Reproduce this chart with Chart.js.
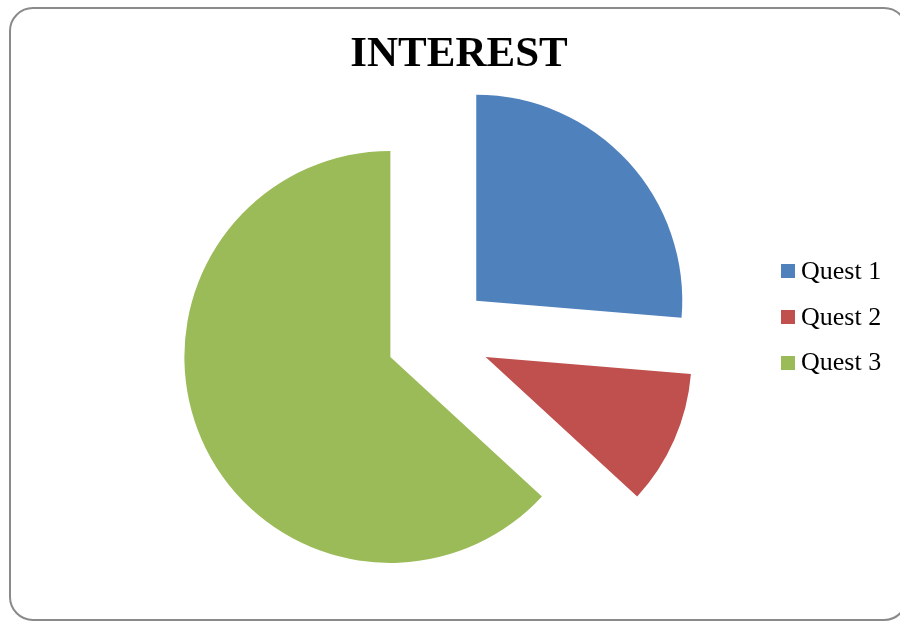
<!DOCTYPE html>
<html>
<head>
<meta charset="utf-8">
<script src="https://cdn.jsdelivr.net/npm/chart.js@4"></script>
<style>
  html, body { margin: 0; padding: 0; background: #fff; overflow: hidden; }
  #wrap { position: relative; width: 900px; height: 622px; }
  #frame {
    position: absolute; left: 9px; top: 7px; width: 899px; height: 614px;
    box-sizing: border-box; border: 2px solid #8a8a8a; border-radius: 24px;
  }
  #pie { position: absolute; left: 0; top: 0; }
  #title {
    position: absolute; left: 0; width: 918px; top: 30px; text-align: center;
    font: bold 43px 'Liberation Serif', serif; line-height: 1; color: #000;
  }
  #legend { position: absolute; left: 781px; top: 258px; font: 26px 'Liberation Serif', serif; }
  .item { position: relative; height: 26px; line-height: 1; margin-bottom: 19.7px; white-space: nowrap; }
  .item span.box { position: absolute; left: 0; top: 6.3px; width: 14px; height: 14px; }
  .item span.lbl { position: absolute; left: 20px; top: 0; }
</style>
</head>
<body>
<div id="wrap">
  <div id="frame"></div>
  <canvas id="pie" width="900" height="622"></canvas>
  <div id="title">INTEREST</div>
  <div id="legend"></div>
</div>
<script>
const labels = ['Quest 1', 'Quest 2', 'Quest 3'];
const values = [25, 10, 60];
const colors = ['#4F81BD', '#C0504D', '#9BBB59'];
const explodePx = 52;

// pull every slice out along its middle angle, keeping radius and angles intact
const baseArcDraw = Chart.ArcElement.prototype.draw;
Chart.ArcElement.prototype.draw = function (ctx) {
  const mid = (this.startAngle + this.endAngle) / 2;
  ctx.save();
  ctx.translate(Math.cos(mid) * explodePx, Math.sin(mid) * explodePx);
  baseArcDraw.call(this, ctx);
  ctx.restore();
};

new Chart(document.getElementById('pie'), {
  type: 'pie',
  data: {
    labels: labels,
    datasets: [{
      data: values,
      backgroundColor: colors,
      borderWidth: 0
    }]
  },
  options: {
    responsive: false,
    animation: false,
    radius: 206,
    layout: { padding: { left: 0, right: 24, top: 50, bottom: 0 } },
    plugins: {
      legend: { display: false },
      title: { display: false },
      tooltip: { enabled: false }
    },
    events: []
  }
});

// legend
const legendEl = document.getElementById('legend');
labels.forEach((name, i) => {
  const row = document.createElement('div');
  row.className = 'item';
  row.innerHTML = `<span class="box" style="background:${colors[i]}"></span><span class="lbl">${name}</span>`;
  legendEl.appendChild(row);
});
</script>
</body>
</html>
